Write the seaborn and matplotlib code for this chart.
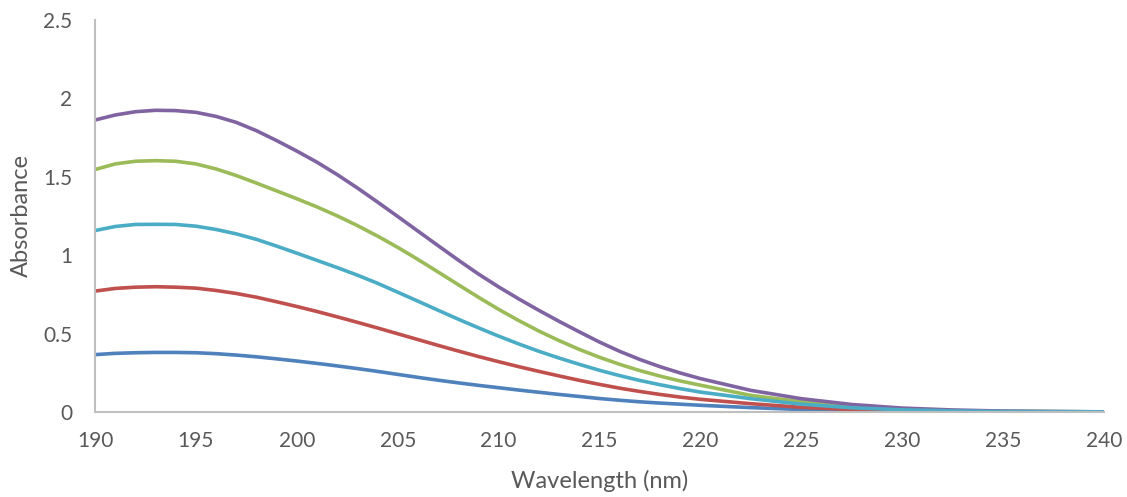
import matplotlib
matplotlib.use("Agg")
import matplotlib.pyplot as plt
import seaborn as sns
import pandas as pd

wavelength = [190, 191, 192, 193, 194, 195, 196, 197, 198, 199,
              200, 201, 202, 203, 204, 205, 206, 207, 208, 209,
              210, 211, 212, 213, 214, 215, 216, 217, 218, 219,
              220, 222.5, 225, 227.5, 230, 232.5, 235, 240]
series_1 = [0.366, 0.374, 0.378, 0.380, 0.380, 0.378, 0.372, 0.363, 0.352, 0.339,
            0.325, 0.310, 0.294, 0.277, 0.259, 0.240, 0.221, 0.203, 0.186, 0.170,
            0.155, 0.140, 0.126, 0.112, 0.099, 0.086, 0.075, 0.065, 0.057, 0.050,
            0.043, 0.028, 0.016, 0.008, 0.004, 0.002, 0.001, 0.0003]
series_2 = [0.771, 0.788, 0.796, 0.799, 0.796, 0.790, 0.775, 0.756, 0.732, 0.703,
            0.673, 0.641, 0.607, 0.572, 0.536, 0.499, 0.462, 0.425, 0.389, 0.354,
            0.321, 0.289, 0.259, 0.230, 0.202, 0.176, 0.152, 0.131, 0.112, 0.095,
            0.081, 0.053, 0.030, 0.016, 0.008, 0.004, 0.002, 0.0005]
series_3 = [1.546, 1.582, 1.599, 1.603, 1.599, 1.582, 1.550, 1.508, 1.460, 1.410,
            1.360, 1.308, 1.251, 1.189, 1.122, 1.050, 0.973, 0.893, 0.812, 0.732,
            0.655, 0.583, 0.516, 0.455, 0.399, 0.349, 0.304, 0.264, 0.229, 0.198,
            0.171, 0.106, 0.065, 0.036, 0.019, 0.009, 0.004, 0.001]
series_4 = [1.862, 1.894, 1.915, 1.924, 1.922, 1.911, 1.885, 1.847, 1.794, 1.731,
            1.664, 1.593, 1.514, 1.429, 1.339, 1.247, 1.154, 1.061, 0.969, 0.880,
            0.798, 0.721, 0.648, 0.578, 0.511, 0.446, 0.387, 0.335, 0.289, 0.249,
            0.213, 0.138, 0.085, 0.048, 0.025, 0.013, 0.006, 0.001]
series_5 = [1.157, 1.183, 1.196, 1.197, 1.196, 1.185, 1.164, 1.136, 1.101, 1.058,
            1.013, 0.967, 0.921, 0.873, 0.821, 0.764, 0.707, 0.649, 0.592, 0.537,
            0.484, 0.434, 0.387, 0.344, 0.304, 0.266, 0.232, 0.201, 0.174, 0.149,
            0.127, 0.085, 0.050, 0.027, 0.014, 0.007, 0.003, 0.001]
series_names = ["Series1", "Series2", "Series3", "Series4", "Series5"]
colors = ["#4F81BD", "#C0504D", "#9BBB59", "#8064A2", "#4BACC6"]
x_ticks = [190, 195, 200, 205, 210, 215, 220, 225, 230, 235, 240]
y_ticks = [0, 0.5, 1, 1.5, 2, 2.5]
y_tick_labels = ["0", "0.5", "1", "1.5", "2", "2.5"]

frames = []
for name, vals in zip(series_names, [series_1, series_2, series_3, series_4, series_5]):
    frames.append(pd.DataFrame({"Wavelength": wavelength, "Absorbance": vals, "Series": name}))
df = pd.concat(frames, ignore_index=True)

sns.set_style("white")
plt.rcParams["font.family"] = ["Lato", "DejaVu Sans"]
text_color = "#595959"
spine_color = "#BFBFBF"

fig = plt.figure(figsize=(11.27, 4.97), dpi=100)
ax = fig.add_axes([0.0843, 0.171, 0.8953, 0.7888])

sns.lineplot(data=df, x="Wavelength", y="Absorbance", hue="Series",
             palette=dict(zip(series_names, colors)), linewidth=2.6,
             legend=False, ax=ax, sort=True)
for line in ax.get_lines():
    line.set_solid_joinstyle("round")
    line.set_solid_capstyle("butt")

ax.set_xlim(190, 240)
ax.set_ylim(0, 2.5)
ax.set_xticks(x_ticks)
ax.set_xticklabels([str(t) for t in x_ticks])
ax.set_yticks(y_ticks)
ax.set_yticklabels(y_tick_labels)

for side in ["top", "right"]:
    ax.spines[side].set_visible(False)
for side in ["left", "bottom"]:
    ax.spines[side].set_color(spine_color)
    ax.spines[side].set_linewidth(1.5)

ax.tick_params(axis="both", direction="in", length=5, width=1.2, color=spine_color,
               labelsize=15, labelcolor=text_color)
ax.tick_params(axis="x", pad=14)
ax.tick_params(axis="y", pad=16.5)

ax.set_xlabel("Wavelength (nm)", fontsize=17, color=text_color, labelpad=13)
ax.set_ylabel("Absorbance", fontsize=17, color=text_color, labelpad=8)

fig.savefig("out.png", dpi=100)
